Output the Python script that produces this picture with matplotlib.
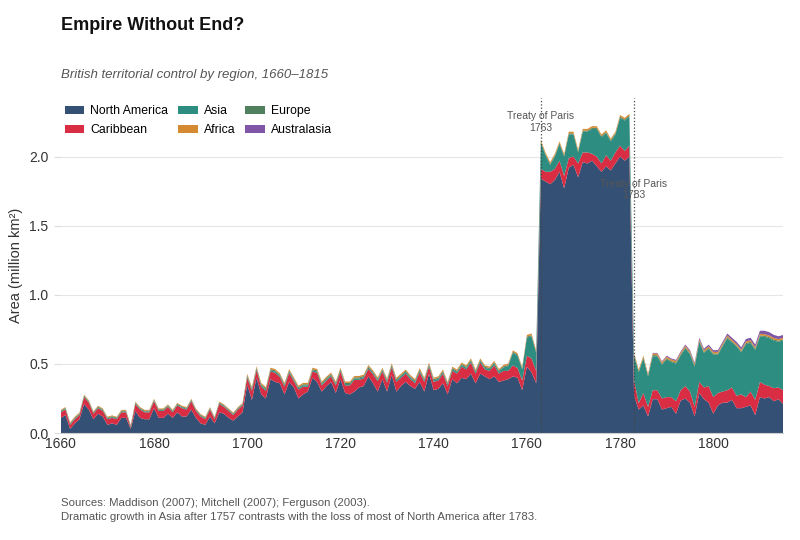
import numpy as np
import matplotlib
matplotlib.use("Agg")
import matplotlib.pyplot as plt

plt.rcParams['font.family'] = ['Liberation Sans', 'DejaVu Sans']

years = list(range(1660, 1816))

# million km2, one row per decade
north_america = [
    0.11, 0.13, 0.03, 0.07, 0.10, 0.21, 0.17, 0.10, 0.14, 0.12,
    0.06, 0.07, 0.06, 0.11, 0.11, 0.03, 0.16, 0.11, 0.10, 0.10,
    0.18, 0.11, 0.11, 0.14, 0.11, 0.15, 0.12, 0.12, 0.17, 0.11,
    0.07, 0.06, 0.12, 0.07, 0.15, 0.14, 0.11, 0.09, 0.12, 0.15,
    0.35, 0.24, 0.40, 0.28, 0.25, 0.39, 0.37, 0.36, 0.28, 0.37,
    0.33, 0.25, 0.28, 0.30, 0.40, 0.37, 0.30, 0.34, 0.37, 0.29,
    0.39, 0.29, 0.28, 0.30, 0.33, 0.34, 0.41, 0.36, 0.30, 0.39,
    0.30, 0.42, 0.30, 0.34, 0.37, 0.34, 0.32, 0.37, 0.30, 0.43,
    0.31, 0.32, 0.36, 0.28, 0.39, 0.36, 0.40, 0.39, 0.43, 0.36,
    0.43, 0.41, 0.39, 0.41, 0.37, 0.38, 0.39, 0.41, 0.40, 0.31,
    0.48, 0.44, 0.36, 1.84, 1.82, 1.80, 1.83, 1.89, 1.77, 1.92,
    1.94, 1.85, 1.96, 1.95, 1.97, 1.93, 1.89, 1.93, 1.90, 1.95,
    2.00, 1.97, 2.00, 0.27, 0.17, 0.20, 0.12, 0.245, 0.245, 0.17,
    0.18, 0.19, 0.14, 0.235, 0.25, 0.22, 0.12, 0.29, 0.245, 0.22,
    0.14, 0.20, 0.22, 0.22, 0.24, 0.18, 0.18, 0.19, 0.20, 0.13,
    0.26, 0.25, 0.26, 0.23, 0.245, 0.21,
]
caribbean = [
    0.04, 0.04, 0.03, 0.03, 0.03, 0.05, 0.05, 0.04, 0.04, 0.04,
    0.04, 0.04, 0.04, 0.04, 0.04, 0.01, 0.05, 0.06, 0.05, 0.05,
    0.05, 0.05, 0.05, 0.05, 0.04, 0.05, 0.06, 0.05, 0.06, 0.05,
    0.05, 0.04, 0.05, 0.03, 0.06, 0.05, 0.05, 0.04, 0.05, 0.05,
    0.05, 0.065, 0.055, 0.055, 0.055, 0.055, 0.065, 0.045, 0.055, 0.065,
    0.045, 0.065, 0.055, 0.035, 0.045, 0.065, 0.045, 0.04, 0.04, 0.055,
    0.055, 0.055, 0.065, 0.085, 0.055, 0.055, 0.055, 0.065, 0.075, 0.055,
    0.065, 0.055, 0.07, 0.06, 0.06, 0.05, 0.04, 0.07, 0.07, 0.05,
    0.06, 0.06, 0.07, 0.06, 0.06, 0.07, 0.08, 0.07, 0.08, 0.07,
    0.08, 0.05, 0.06, 0.08, 0.06, 0.07, 0.06, 0.08, 0.07, 0.07,
    0.08, 0.10, 0.09, 0.07, 0.07, 0.09, 0.08, 0.08, 0.09, 0.07,
    0.06, 0.10, 0.07, 0.08, 0.05, 0.07, 0.06, 0.08, 0.07, 0.08,
    0.08, 0.07, 0.08, 0.115, 0.046, 0.09, 0.07, 0.065, 0.065, 0.08,
    0.08, 0.07, 0.09, 0.075, 0.09, 0.08, 0.07, 0.08, 0.085, 0.12,
    0.12, 0.09, 0.08, 0.09, 0.09, 0.09, 0.10, 0.07, 0.10, 0.11,
    0.11, 0.10, 0.08, 0.095, 0.085, 0.10,
]
asia = [
    0.006, 0.006, 0.006, 0.006, 0.006, 0.006, 0.006, 0.006, 0.006, 0.006,
    0.006, 0.006, 0.006, 0.006, 0.006, 0.006, 0.006, 0.006, 0.006, 0.006,
    0.006, 0.006, 0.006, 0.006, 0.006, 0.006, 0.006, 0.006, 0.006, 0.006,
    0.006, 0.006, 0.006, 0.006, 0.006, 0.006, 0.006, 0.006, 0.006, 0.006,
    0.010, 0.010, 0.010, 0.010, 0.010, 0.010, 0.010, 0.010, 0.010, 0.010,
    0.010, 0.010, 0.010, 0.010, 0.010, 0.010, 0.010, 0.010, 0.010, 0.010,
    0.010, 0.010, 0.010, 0.010, 0.010, 0.010, 0.010, 0.010, 0.010, 0.010,
    0.012, 0.012, 0.012, 0.012, 0.012, 0.012, 0.012, 0.012, 0.012, 0.012,
    0.012, 0.012, 0.012, 0.012, 0.012, 0.012, 0.012, 0.012, 0.012, 0.012,
    0.012, 0.012, 0.013, 0.014, 0.015, 0.025, 0.035, 0.09, 0.09, 0.08,
    0.13, 0.16, 0.13, 0.19, 0.12, 0.05, 0.09, 0.12, 0.14, 0.17,
    0.16, 0.08, 0.15, 0.15, 0.18, 0.20, 0.19, 0.16, 0.14, 0.13,
    0.20, 0.22, 0.21, 0.175, 0.224, 0.25, 0.22, 0.246, 0.245, 0.244,
    0.273, 0.253, 0.272, 0.252, 0.271, 0.27, 0.29, 0.289, 0.249, 0.268,
    0.308, 0.277, 0.327, 0.376, 0.325, 0.355, 0.304, 0.383, 0.352, 0.361,
    0.328, 0.346, 0.346, 0.343, 0.33, 0.36,
]
europe = [0.006] * 40 + [0.008] * 116
africa = [0.006] * 40 + [0.010] * 60 + [0.012] * 56
australasia = [0.0] * 127 + [
    0.004, 0.005, 0.006,
    0.007, 0.007, 0.008, 0.008, 0.009, 0.010, 0.010, 0.011, 0.011, 0.012,
    0.012, 0.013, 0.013, 0.014, 0.015, 0.015, 0.016, 0.017, 0.018, 0.019,
    0.022, 0.024, 0.024, 0.022, 0.020, 0.020,
]

regions = ["North America", "Caribbean", "Asia", "Europe", "Africa", "Australasia"]
colors = ["#2d4b70", "#d7263d", "#25897c", "#4a7c59", "#d4862a", "#7b4fa3"]
series = [north_america, caribbean, asia, europe, africa, australasia]

fig = plt.figure(figsize=(8, 5.4), dpi=100)
ax = fig.add_axes([0.076, 0.198, 0.903, 0.621])

polys = ax.stackplot(years, *series, colors=colors, labels=regions, alpha=0.97, linewidth=0)

ax.set_xlim(1660, 1815)
top = max(np.sum(series, axis=0)) * 1.05
ax.set_ylim(0, top)
ax.set_yticks([0.0, 0.5, 1.0, 1.5, 2.0])
ax.yaxis.grid(True, color="#e6e6e6", linewidth=0.8)
ax.set_axisbelow(True)
for s in ["top", "right", "left"]:
    ax.spines[s].set_visible(False)
ax.spines["bottom"].set_color("#cccccc")
ax.tick_params(axis="y", length=5, color="#dddddd", labelsize=10, labelcolor="#333333", pad=4)
ax.tick_params(axis="x", length=0, labelsize=10, labelcolor="#333333", pad=3)
ax.set_ylabel("Area (million km²)", fontsize=10.5, color="#333333")

# treaty markers
for yr, ytxt in [(1763, 2.25), (1783, 1.76)]:
    ax.axvline(yr, color="#444444", linestyle=":", linewidth=0.9)
    ax.text(yr, ytxt, f"Treaty of Paris\n{yr}", ha="center", va="center",
            fontsize=7.5, color="#555555", linespacing=1.15)

handles = [polys[0], polys[1], polys[2], polys[4], polys[3], polys[5]]
labels = ["North America", "Caribbean", "Asia", "Africa", "Europe", "Australasia"]
ax.legend(handles, labels, ncol=3, loc="upper left", bbox_to_anchor=(-0.01, 1.01),
          frameon=False, fontsize=8.8, handlelength=1.6, handleheight=0.7,
          columnspacing=0.8, labelspacing=0.55, handletextpad=0.5)

fig.text(0.076, 0.953, "Empire Without End?", fontsize=13, fontweight="bold",
         color="#111111", va="center")
fig.text(0.076, 0.861, "British territorial control by region, 1660–1815", fontsize=9.5,
         style="italic", color="#555555", va="center")
fig.text(0.076, 0.056,
         "Sources: Maddison (2007); Mitchell (2007); Ferguson (2003).\n"
         "Dramatic growth in Asia after 1757 contrasts with the loss of most of North America after 1783.",
         fontsize=8.2, color="#555555", va="center", linespacing=1.45)

fig.savefig("out.png", dpi=100)
